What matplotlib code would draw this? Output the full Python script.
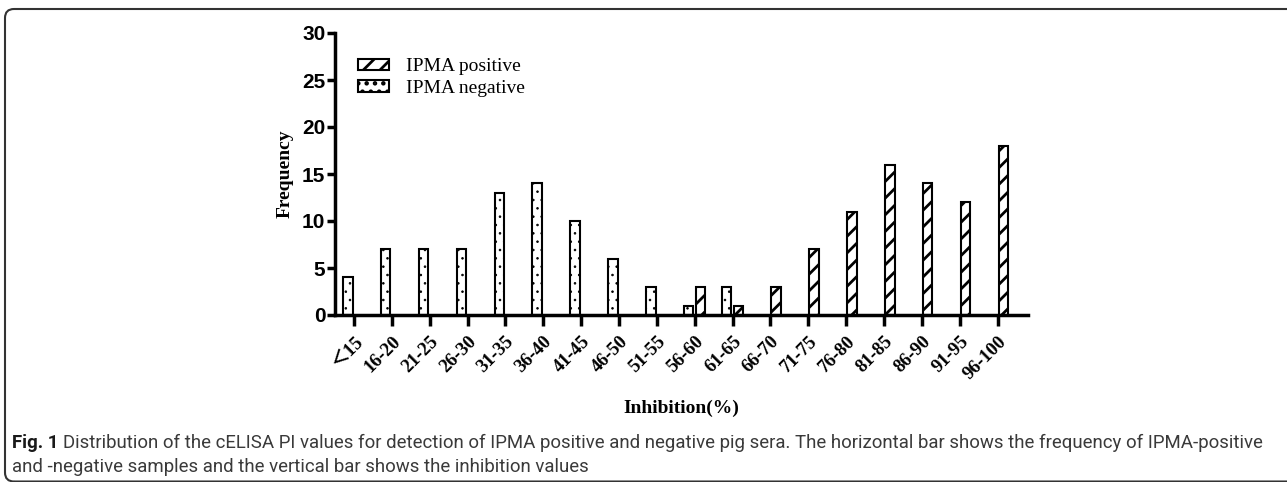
import numpy as np
import matplotlib.pyplot as plt
from matplotlib.patches import FancyBboxPatch, Patch
from matplotlib.transforms import IdentityTransform

plt.rcParams['hatch.linewidth'] = 2.0

# --- data ---
categories = ['<15', '16-20', '21-25', '26-30', '31-35', '36-40', '41-45', '46-50', '51-55',
              '56-60', '61-65', '66-70', '71-75', '76-80', '81-85', '86-90', '91-95', '96-100']
tick_labels = ['\uff1c15'] + categories[1:]
negative = [4, 7, 7, 7, 13, 14, 10, 6, 3, 1, 3, 0, 0, 0, 0, 0, 0, 0]
positive = [0, 0, 0, 0, 0, 0, 0, 0, 0, 3, 1, 3, 7, 11, 16, 14, 12, 18]

serif = ['Liberation Serif', 'Noto Sans CJK SC']
sans = 'Liberation Sans'

W, H = 1287, 482
fig = plt.figure(figsize=(W / 100, H / 100), dpi=100)
ax = fig.add_axes([335 / W, 1 - 315 / H, (1028 - 335) / W, (315 - 33) / H])

x = np.arange(len(categories))
w = 0.25
neg_bars = ax.bar(x - 0.16, negative, w, color='white', edgecolor='black', linewidth=1.5,
                  hatch='..')
pos_bars = ax.bar(x + 0.15, positive, w, color='white', edgecolor='black', linewidth=1.5,
                  hatch='//')
for b, v in zip(neg_bars, negative):
    if v == 0:
        b.set_visible(False)
    try:
        b.set_hatch_linewidth(0.6)
    except AttributeError:
        pass
for b, v in zip(pos_bars, positive):
    if v == 0:
        b.set_visible(False)

ax.set_xlim(-0.5, 17.8)
ax.set_ylim(0, 30)
ax.set_yticks([0, 5, 10, 15, 20, 25, 30])
ax.set_xticks(x)
ax.set_xticklabels(tick_labels, rotation=45, ha='right', rotation_mode='anchor',
                   fontfamily=serif, fontweight='bold', fontsize=13.5)
for lab in ax.get_yticklabels():
    lab.set_fontfamily(sans)
    lab.set_fontweight('bold')
    lab.set_fontsize(15)

for s in ['top', 'right']:
    ax.spines[s].set_visible(False)
for s in ['left', 'bottom']:
    ax.spines[s].set_linewidth(2.5)
ax.tick_params(axis='x', direction='out', length=8, width=2.5, pad=5)
ax.tick_params(axis='y', direction='out', length=6, width=2.5, pad=1)

ax.set_ylabel('Frequency', fontfamily=serif, fontweight='bold', fontsize=14, labelpad=6)
ax.set_xlabel('Inhibition(%)', fontfamily=serif, fontweight='bold', fontsize=14, labelpad=12)

h_pos = Patch(facecolor='white', edgecolor='black', linewidth=1.5, hatch='//')
h_neg = Patch(facecolor='white', edgecolor='black', linewidth=1.5, hatch='..')
try:
    h_neg.set_hatch_linewidth(0.6)
except AttributeError:
    pass
ax.legend([h_pos, h_neg], ['IPMA positive', 'IPMA negative'], loc='upper left',
          bbox_to_anchor=(0.033, 0.91), frameon=False, borderpad=0, borderaxespad=0,
          handlelength=1.6, handleheight=0.55, handletextpad=0.9, labelspacing=0.22,
          prop={'family': serif, 'size': 14})

# caption, sized to fill the line width of the reference
cap_font = 'Roboto'
line1 = ('Distribution of the cELISA PI values for detection of IPMA positive and negative pig sera. '
         'The horizontal bar shows the frequency of IPMA-positive')
line2 = 'and -negative samples and the vertical bar shows the inhibition values'
fs = 12
renderer = fig.canvas.get_renderer()
t_fig = fig.text(12 / W, 1 - 443 / H, 'Fig. 1 ', fontfamily=cap_font, fontweight='bold',
                 fontsize=fs, color='#1a1a1a', va='center')
t_l1 = fig.text(0, 1 - 443 / H, line1, fontfamily=cap_font, fontsize=fs, color='#3a3a3a',
                va='center')
total = (t_fig.get_window_extent(renderer).width + t_l1.get_window_extent(renderer).width)
fs = fs * (1257 - 12) / total
t_fig.set_fontsize(fs)
t_l1.set_fontsize(fs)
t_l1.set_x((12 + t_fig.get_window_extent(renderer).width) / W)
fig.text(12 / W, 1 - 467 / H, line2, fontfamily=cap_font, fontsize=fs, color='#3a3a3a',
         va='center')

# rounded frame around the figure (open to the right and bottom edges)
box = FancyBboxPatch((5, 0.5), 1330, H - 9 - 0.5, boxstyle='round,pad=0,rounding_size=9',
                     transform=IdentityTransform(), facecolor='none', edgecolor='#333333',
                     linewidth=1.5, clip_on=False)
fig.patches.append(box)

fig.savefig('out.png', dpi=100)
